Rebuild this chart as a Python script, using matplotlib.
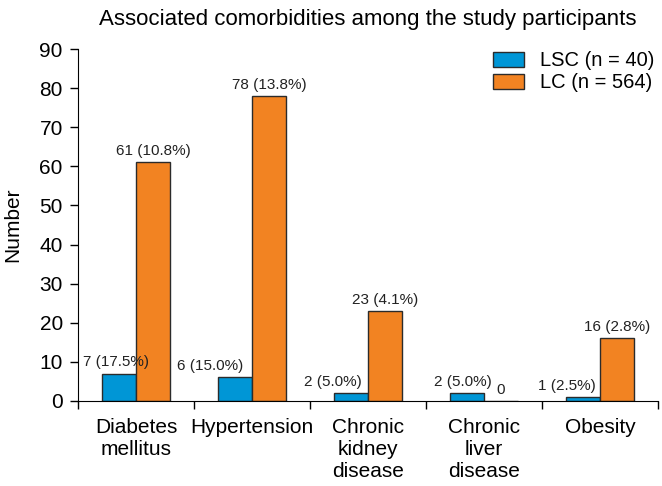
import numpy as np
import matplotlib
matplotlib.use("Agg")
import matplotlib.pyplot as plt

plt.rcParams['font.family'] = ['Liberation Sans', 'DejaVu Sans']

categories = ["Diabetes\nmellitus", "Hypertension", "Chronic\nkidney\ndisease",
              "Chronic\nliver\ndisease", "Obesity"]
lsc = [7, 6, 2, 2, 1]
lc = [61, 78, 23, 0, 16]
lsc_labels = ["7 (17.5%)", "6 (15.0%)", "2 (5.0%)", "2 (5.0%)", "1 (2.5%)"]
lc_labels = ["61 (10.8%)", "78 (13.8%)", "23 (4.1%)", "0", "16 (2.8%)"]

# horizontal nudges (points) for the LSC labels, as in the original layout
lsc_dx = [-2, -18, -13, -3, -12]

blue = "#0096d6"
orange = "#f28322"
edge = "#2b2b2b"

fig = plt.figure(figsize=(6.62, 4.86), dpi=100)
ax = fig.add_axes([0.118, 0.175, 0.876, 0.724])

x = np.arange(len(categories))
w = 0.293
ax.bar(x - w / 2, lsc, w, color=blue, edgecolor=edge, linewidth=1.0,
       label="LSC (n = 40)")
ax.bar(x + w / 2, lc, w, color=orange, edgecolor=edge, linewidth=1.0,
       label="LC (n = 564)")

for i in range(len(categories)):
    ax.annotate(lsc_labels[i], (x[i] - w / 2, lsc[i]), xytext=(lsc_dx[i], 3),
                textcoords="offset points", ha="center", va="bottom",
                fontsize=11, color="#222222")
    ax.annotate(lc_labels[i], (x[i] + w / 2, lc[i]), xytext=(0, 3),
                textcoords="offset points", ha="center", va="bottom",
                fontsize=11, color="#222222")

ax.set_xlim(-0.5, len(categories) - 0.5)
ax.set_ylim(0, 90)
ax.set_yticks(np.arange(0, 91, 10))
ax.set_xticks(x)
ax.set_xticklabels(categories, fontsize=15, linespacing=1.2)
ax.set_xticks(np.arange(-0.5, len(categories)), minor=True)
ax.tick_params(axis="x", which="major", length=0, pad=12)
ax.tick_params(axis="x", which="minor", length=6, width=1, direction="out")
ax.tick_params(axis="y", labelsize=15, length=6, width=1, direction="out", pad=5)
ax.spines["top"].set_visible(False)
ax.spines["right"].set_visible(False)
ax.set_ylabel("Number", fontsize=15)
ax.yaxis.set_label_coords(-0.096, 0.5)
ax.set_title("Associated comorbidities among the study participants",
             fontsize=16, pad=17)

ax.legend(loc="upper right", bbox_to_anchor=(1.0, 1.005), frameon=False,
          fontsize=14.5, handlelength=1.5, handleheight=0.75,
          labelspacing=0.15, borderaxespad=0.0, borderpad=0.2,
          handletextpad=0.8)

fig.savefig("out.png", dpi=100)
